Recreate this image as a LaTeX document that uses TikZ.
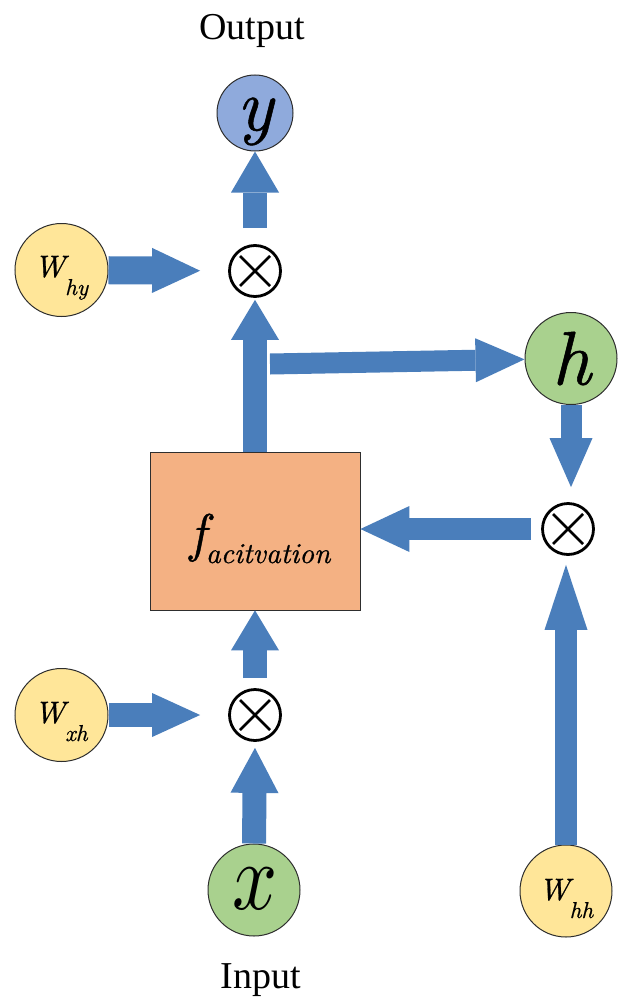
\documentclass[tikz,border=0pt]{standalone}
\usepackage{fontspec}
\setmainfont{Liberation Serif}
\usepackage{graphicx}
\usetikzlibrary{arrows.meta}

\definecolor{flowblue}{HTML}{4A7EBB}
\definecolor{ycirc}{HTML}{8FAADC}
\definecolor{gcirc}{HTML}{A9D18E}
\definecolor{wcirc}{HTML}{FFE699}
\definecolor{actbox}{HTML}{F4B183}
\definecolor{rim}{HTML}{2E2E2E}

% italic letters for the symbols
\newfontfamily{\symit}{lmroman10-italic.otf}[FakeBold=0.7]
% weight label: W with a lowered subscript
\newcommand{\wlab}[1]{\fontsize{31}{31}\selectfont\symit W\raisebox{-18pt}{\fontsize{23}{23}\selectfont #1}}

\begin{document}
\begin{tikzpicture}[x=1pt,y=-1pt,
  state/.style={circle, draw=rim, line width=1pt, inner sep=0pt, minimum size=#1},
  mult/.style={circle, draw=black, line width=2.8pt, minimum size=51pt, inner sep=0pt,
    path picture={
      \draw[line width=2.8pt] ([shift={(-15pt,-15pt)}]path picture bounding box.center) -- ++(30pt,30pt);
      \draw[line width=2.8pt] ([shift={(-15pt,15pt)}]path picture bounding box.center) -- ++(30pt,-30pt);
    }},
  actbox/.style={rectangle, draw=rim, line width=0.8pt, fill=actbox, minimum width=210pt, minimum height=158pt, inner sep=0pt},
  flow/.style n args={3}{draw=flowblue, line width=#1,
    -{Triangle[length=#2 0 0, width=#3 0 0, line width=0pt 0 0]}},
  txt/.style={inner sep=0pt},
]
\useasboundingbox (0,0) rectangle (618,998);

% operands and products
\node[state=76pt, fill=ycirc] (yc) at (255,113) {};
\node[state=93pt, fill=wcirc] (wy) at (61.5,270) {};
\node[mult] (m1) at (255,271) {};
\node[state=92pt, fill=gcirc] (hc) at (571,358.5) {};
\node[actbox] (act) at (255,531) {};
\node[mult] (m2) at (568,529) {};
\node[state=93pt, fill=wcirc] (wx) at (61.5,715) {};
\node[mult] (m3) at (255,715) {};
\node[state=92pt, fill=gcirc] (xc) at (254,890) {};
\node[state=92pt, fill=wcirc] (wh) at (566,891) {};
\coordinate (split) at (270,364);

% block arrows
\draw[flow={24pt}{41pt}{48pt}, shorten <=16pt] (m1.north) -- (yc.south);
\draw[flow={28pt}{48pt}{45pt}, shorten >=28pt] (wy) -- (m1);
\draw[flow={24pt}{40pt}{48pt}, shorten >=2pt] (act.north -| m1) -- (m1.south);
\draw[flow={21pt}{49pt}{44pt}] (split) -- (hc);
\draw[flow={21pt}{49pt}{43pt}, shorten >=15pt] (hc.south) -- (hc.south |- m2.north);
\draw[flow={22pt}{49pt}{46pt}, shorten <=10pt] (m2.west) -- (act.east |- m2.west);
\draw[flow={24pt}{40pt}{48pt}, shorten <=10pt] (m3.north) -- (act.south);
\draw[flow={24pt}{48pt}{44pt}, shorten >=28pt] (wx) -- (m3);
\draw[flow={24pt}{45pt}{48pt}, shorten >=6pt] (xc.north) -- (m3.south);
\draw[flow={22pt}{65pt}{43pt}, shorten >=9pt] (wh.north) -- (wh.north |- m2.south);

% texts
\node[txt, anchor=base] (outlbl) at (252,40) {\fontsize{38}{40}\selectfont Output};
\node[txt, anchor=base] (inlbl) at (261,988) {\fontsize{38}{40}\selectfont Input};
\node[txt] (ylbl) at (255,121.5) {\fontsize{74}{74}\selectfont\symit y};
\node[txt] (hlbl) at (571.5,358.5) {\fontsize{76}{76}\selectfont\symit h};
\node[txt] (xlbl) at (255,889) {\scalebox{7.9}[9.6]{$x$}};
\node[txt, anchor=base west] (wylbl) at (34,277) {\wlab{hy}};
\node[txt, anchor=base west] (wxlbl) at (34,723) {\wlab{xh}};
\node[txt, anchor=base west] (whlbl) at (538.5,900) {\wlab{hh}};
\node[txt, anchor=base] (flbl) at (260,551) {\fontsize{53}{53}\selectfont\symit f\raisebox{-12pt}{\fontsize{29}{29}\selectfont acitvation}};
\end{tikzpicture}
\end{document}
